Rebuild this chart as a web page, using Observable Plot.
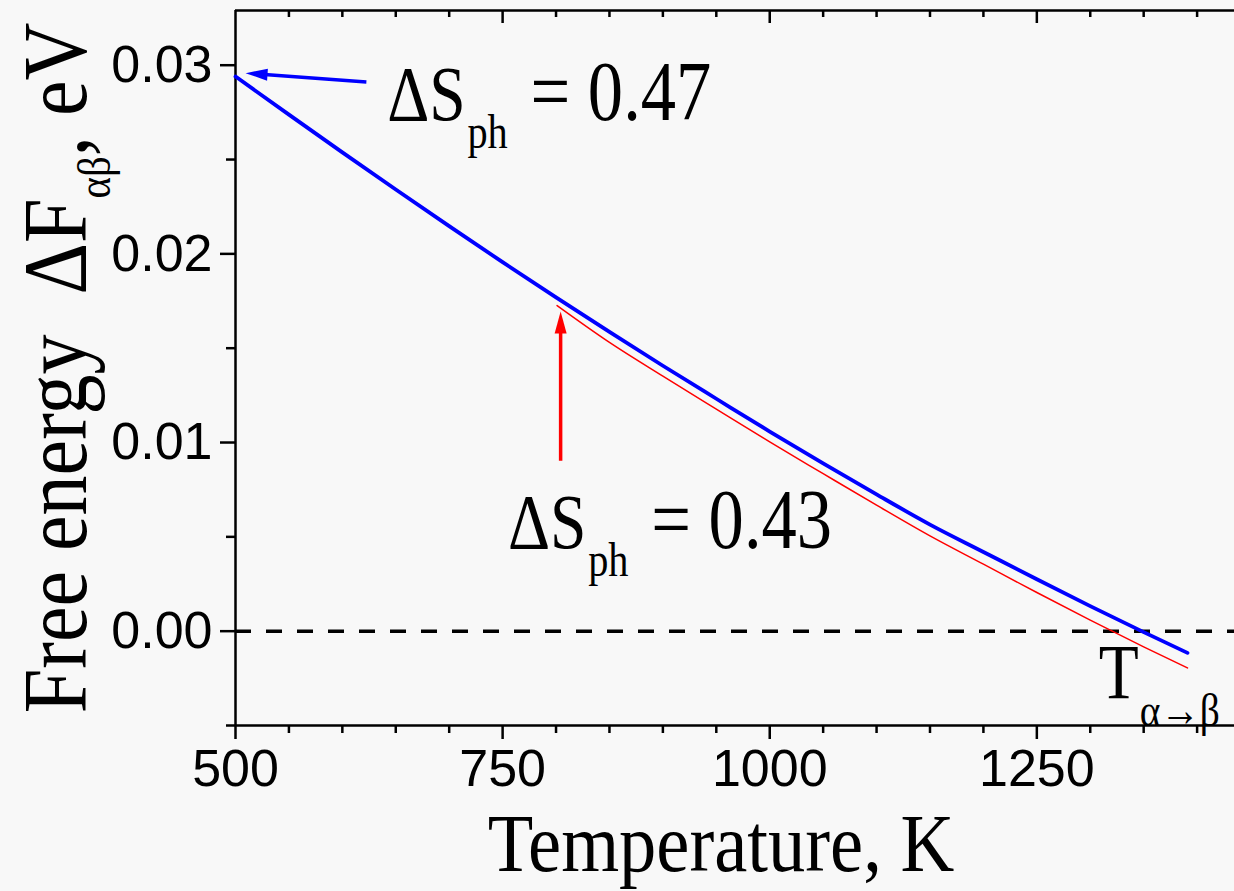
<!DOCTYPE html>
<html><head><meta charset="utf-8">
<script src="https://cdn.jsdelivr.net/npm/d3@7"></script>
<script src="https://cdn.jsdelivr.net/npm/@observablehq/plot@0.6"></script>
<style>body{margin:0;background:#f8f8f8}</style>
</head><body><div id="chart"></div>
<script>
// ---- data ----
const blueT = [500,550,600,650,700,750,800,850,900,950,1000,1050,1100,1150,1200,1250,1300,1350,1391];
const blueF = [0.0294,0.02738,0.02538,0.02341,0.02147,0.01956,0.01769,0.01586,0.01407,0.01232,0.01058,0.0089,0.00725,0.00565,0.0042,0.00275,0.00133,-0.00005,-0.00115];
const redT = [801,850,900,950,1000,1050,1100,1150,1200,1250,1300,1350,1391];
const redF = [0.01726,0.01531,0.01352,0.01177,0.01003,0.00835,0.00668,0.00505,0.00355,0.00205,0.00059,-0.00083,-0.00195];
const xMajor = [500,750,1000,1250];
const xMinor = [550,600,650,700,800,850,900,950,1050,1100,1150,1200,1300,1350,1400];
const xTopMinor = [550,600,650,700,800,850,900,950,1050,1100,1150,1200,1300,1350,1400];
const xTopMajor = [750,1000,1250];
const yMajor = [0,0.01,0.02,0.03];
const yMinor = [-0.005,0.005,0.015,0.025];
const xDomain = [500,1435];
const yDomain = [-0.005,0.0329];
const xLabel = "Temperature, K";
const yLabelParts = {main:"Free energy\u2002ΔF", sub:"αβ", rest:", eV"};
const annotations = [
  {x:642, y:0.02708, main:"ΔS", sub:"ph", rest:"\u00a0= 0.47"},
  {x:755, y:0.00441, main:"ΔS", sub:"ph", rest:"\u00a0= 0.43"},
  {x:1308, y:-0.00356, main:"T", sub:"α→β", rest:""}
];
const arrows = [
  {x1:622.5, y1:0.02911, x2:524, y2:0.02952, tx:509.4, ty:0.02958, color:"#0000ff"},
  {x1:804.3, y1:0.00903, x2:804.3, y2:0.0162, tx:804.3, ty:0.01694, color:"#ff0000"}
];

const blue = blueT.map((t,i)=>({t, f:blueF[i]}));
const red = redT.map((t,i)=>({t, f:redF[i]}));

const W = 1234, H = 891, mL = 235, mT = 10, mB = 166;
const plotH = H - mT - mB;
const SERIF = "'Liberation Serif','Times New Roman',serif";
const SANS = "'Liberation Sans',Arial,Helvetica,sans-serif";

const chart = Plot.plot({
  width: W, height: H,
  marginLeft: mL, marginRight: 0, marginTop: mT, marginBottom: mB,
  style: {background:"#f8f8f8", fontFamily: SANS},
  x: {domain: xDomain, axis: null, label: null},
  y: {domain: yDomain, axis: null, label: null},
  marks: [
    Plot.ruleY([0], {stroke:"#000", strokeWidth:3.5, strokeDasharray:"16,15"}),
    Plot.ruleX([xDomain[0]], {stroke:"#000", strokeWidth:2.5}),
    Plot.ruleY([yDomain[0]], {stroke:"#000", strokeWidth:2.5}),
    Plot.ruleY([yDomain[1]], {stroke:"#000", strokeWidth:2.5}),
    Plot.ruleX(xTopMinor, {x:d=>d, stroke:"#000", strokeWidth:2.5, insetBottom: plotH - 7}),
    Plot.ruleX(xTopMajor, {x:d=>d, stroke:"#000", strokeWidth:2.5, insetBottom: plotH - 13}),
    Plot.axisX(xMinor, {anchor:"bottom", tickSize:8, strokeWidth:2.5, tickFormat:()=>"", label:null}),
    Plot.axisX(xMajor, {anchor:"bottom", tickSize:14, tickPadding:10, strokeWidth:2.5, fontSize:52, fontFamily:SANS, fill:"#000", tickFormat:d=>String(d), label:null}),
    Plot.axisY(yMinor, {anchor:"left", tickSize:9, strokeWidth:2.5, tickFormat:()=>"", label:null}),
    Plot.axisY(yMajor, {anchor:"left", tickSize:15, tickPadding:8, strokeWidth:2.5, fontSize:52, fontFamily:SANS, fill:"#000", tickFormat:d3.format(".2f"), label:null}),
    Plot.line(red, {x:"t", y:"f", stroke:"#ff0000", strokeWidth:1.5, curve:"monotone-x"}),
    Plot.line(blue, {x:"t", y:"f", stroke:"#0000ff", strokeWidth:3.8, curve:"monotone-x"}),
    Plot.link(arrows, {x1:"x1", y1:"y1", x2:"x2", y2:"y2", stroke:"color", strokeWidth:3.5}),
    Plot.vector([arrows[0]], {x:"tx", y:"ty", rotate:-86, length:22, r:6, shape:"spike", anchor:"end", fill:"color", stroke:null}),
    Plot.vector([arrows[1]], {x:"tx", y:"ty", rotate:0, length:22, r:6, shape:"spike", anchor:"end", fill:"color", stroke:null}),
    Plot.text(annotations, {x:"x", y:"y", text:d=>d.main+d.sub+d.rest, textAnchor:"start", lineAnchor:"bottom", fontFamily:SERIF, fontSize:78, fill:"#000", className:"rich-ann"}),
    Plot.text([xLabel], {frameAnchor:"bottom", dx:-14, dy:145, lineAnchor:"bottom", textAnchor:"middle", fontFamily:SERIF, fontSize:82, fill:"#000", className:"xtitle"}),
    Plot.text([yLabelParts.main+yLabelParts.sub+yLabelParts.rest], {frameAnchor:"left", dx:-150, rotate:-90, lineAnchor:"bottom", textAnchor:"middle", fontFamily:SERIF, fontSize:90, fill:"#000", className:"ytitle"})
  ]
});

function squeeze(t, k) {
  const tr = t.attr("transform") || "";
  t.attr("transform", tr + ` scale(${k},1)`);
}
function rich(t, d, o) {
  t.text(null);
  t.append("tspan").text(d.main);
  t.append("tspan").attr("dy", o.shift).attr("dx", o.subDx || 0).attr("font-size", o.subSize).text(d.sub);
  if (d.rest) t.append("tspan").attr("dy", -o.shift).attr("dx", o.restDx || 0).attr("font-size", o.restSize || null).text(d.rest);
}
const svg = d3.select(chart);
svg.selectAll("g.rich-ann text").each(function(_, j) {
  const d = annotations[j];
  const t = d3.select(this);
  if (d.main === "T") rich(t, d, {subSize:47, shift:28, subDx:1});
  else rich(t, d, {subSize:48, shift:28, subDx:2, restSize:84, restDx:6});
  squeeze(t, 0.84);
});
svg.selectAll("g.xtitle text").each(function() { squeeze(d3.select(this), 0.909); });
svg.selectAll("g.ytitle text").each(function() {
  const t = d3.select(this);
  rich(t, yLabelParts, {subSize:46, shift:24});
  squeeze(t, 0.89);
});
document.getElementById("chart").appendChild(chart);
</script>
</body></html>
